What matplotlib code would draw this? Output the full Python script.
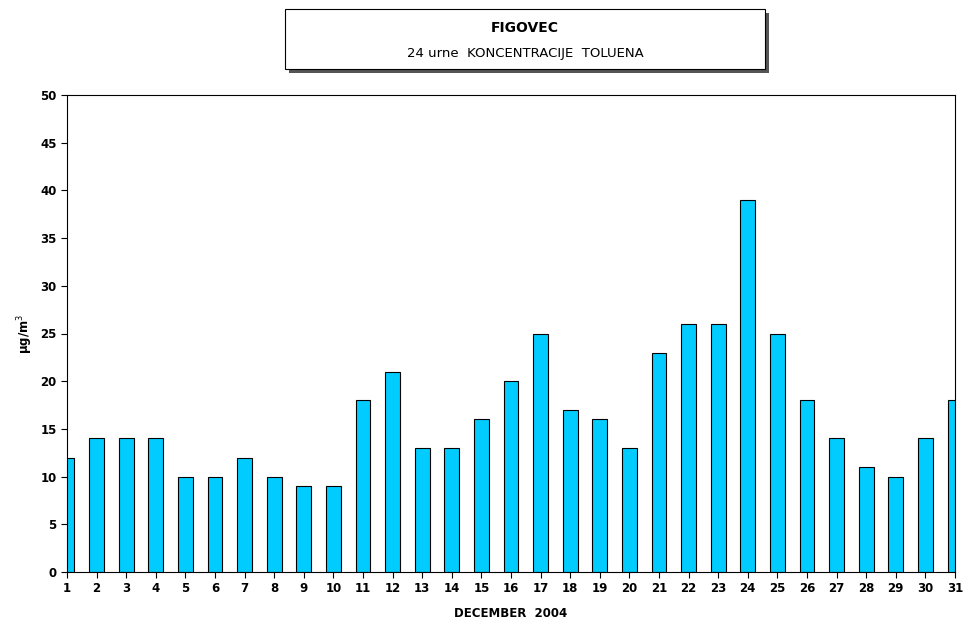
import numpy as np
import matplotlib.pyplot as plt
from matplotlib.patches import Rectangle

days = list(range(1, 32))
values = [12, 14, 14, 14, 10, 10, 12, 10, 9, 9, 18, 21, 13, 13, 16, 20,
          25, 17, 16, 13, 23, 26, 26, 39, 25, 18, 14, 11, 10, 14, 18]

fig = plt.figure(figsize=(9.64, 6.39), dpi=100)
ax = fig.add_axes([67/964, 1-572/639, (955-67)/964, (572-95)/639])
ax.bar(days, values, width=0.5, color='#00CCFF', edgecolor='black', linewidth=0.8, zorder=2)
ax.set_xlim(1, 31)
ax.set_ylim(0, 50)
ax.set_xticks(days)
ax.set_yticks(range(0, 51, 5))
for lbl in ax.get_xticklabels() + ax.get_yticklabels():
    lbl.set_fontweight('bold')
    lbl.set_fontsize(8.5)
ax.tick_params(length=4, direction='out')
ax.set_xlabel('DECEMBER  2004', fontsize=8.5, fontweight='bold', labelpad=8)
ax.set_ylabel('µg/m$^3$', fontsize=8.5, fontweight='bold')

# title box with shadow
fig.patches.append(Rectangle((289/964, 1-73/639), 480/964, 60/639, transform=fig.transFigure,
                             facecolor='#555555', edgecolor='none'))
fig.patches.append(Rectangle((285/964, 1-69/639), 480/964, 60/639, transform=fig.transFigure,
                             facecolor='white', edgecolor='black', linewidth=0.8))
fig.text(525/964, 1-28/639, 'FIGOVEC', ha='center', va='center', fontsize=10, fontweight='bold')
fig.text(525/964, 1-54/639, '24 urne  KONCENTRACIJE  TOLUENA', ha='center', va='center', fontsize=9.5)

fig.savefig('out.png', dpi=100)
